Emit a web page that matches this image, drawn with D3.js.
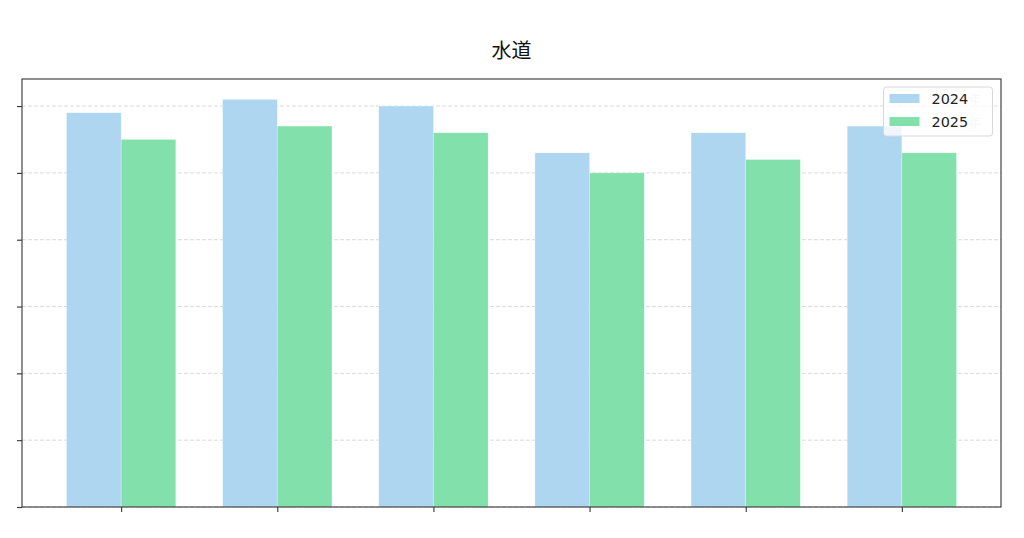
<!DOCTYPE html>
<html>
<head>
<meta charset="utf-8">
<script src="https://cdn.jsdelivr.net/npm/d3@7"></script>
<style>
  body { margin: 0; background: #fff; }
  svg { display: block; font-family: "DejaVu Sans", sans-serif; }
</style>
</head>
<body>
<div class="chart"></div>
<script>
var categories = ['1月', '2月', '3月', '4月', '5月', '6月'];
var seriesNames = ['2024', '2025'];
var values2024 = [118, 122, 120, 106, 112, 114];
var values2025 = [110, 114, 112, 100, 104, 106];
var yTicks = [0, 20, 40, 60, 80, 100, 120];

var colors = ['#aed6f1', '#82e0aa'];
var series = [values2024, values2025];

var fullWidth = 1024, fullHeight = 538;
var margin = { top: 79, right: 23, bottom: 31, left: 22 };
var width = fullWidth - margin.left - margin.right;
var height = fullHeight - margin.top - margin.bottom;

var svg = d3.select('.chart')
  .append('svg')
  .attr('width', fullWidth)
  .attr('height', fullHeight);

var g = svg.append('g')
  .attr('transform', 'translate(' + margin.left + ',' + margin.top + ')');

// matplotlib style: index positions, bar width 0.35, 5% margins
var barW = 0.35;
var lo = -barW, hi = categories.length - 1 + barW;
var pad = (hi - lo) * 0.05;
var xScale = d3.scaleLinear()
  .domain([lo - pad, hi + pad])
  .range([0, width]);

var yMax = d3.max(values2024.concat(values2025)) * 1.05;
var yScale = d3.scaleLinear()
  .domain([0, yMax])
  .range([height, 0]);

// dashed grid
g.append('g')
  .selectAll('line')
  .data(yTicks)
  .enter()
  .append('line')
  .attr('x1', 0)
  .attr('x2', width)
  .attr('y1', d => yScale(d))
  .attr('y2', d => yScale(d))
  .attr('stroke', '#b0b0b0')
  .attr('stroke-opacity', 0.6)
  .attr('stroke-width', 0.8)
  .attr('stroke-dasharray', '4,2');

// bars
series.forEach(function(vals, s) {
  g.append('g')
    .selectAll('rect')
    .data(vals)
    .enter()
    .append('rect')
    .attr('x', (d, i) => xScale(i - barW + s * barW))
    .attr('width', xScale(barW) - xScale(0))
    .attr('y', d => yScale(d))
    .attr('height', d => height - yScale(d))
    .attr('fill', colors[s])
    .attr('stroke', '#ffffff')
    .attr('stroke-opacity', 0.5)
    .attr('stroke-width', 0.5);
});

// axes without labels
var yAxis = d3.axisLeft(yScale)
  .tickValues(yTicks)
  .tickSize(5)
  .tickFormat('');
g.append('g').call(yAxis).call(styleAxis);

var xAxis = d3.axisBottom(xScale)
  .tickValues(d3.range(categories.length))
  .tickSize(5)
  .tickFormat('');
g.append('g')
  .attr('transform', `translate(0, ${height})`)
  .call(xAxis)
  .call(styleAxis);

// frame
g.append('rect')
  .attr('width', width)
  .attr('height', height)
  .attr('fill', 'none')
  .attr('stroke', '#333')
  .attr('stroke-width', 1.1);

function styleAxis(sel) {
  sel.select('.domain').remove();
  sel.selectAll('.tick line').attr('stroke', '#333').attr('stroke-width', 1.1);
}

// title
svg.append('text')
  .attr('x', margin.left + width / 2)
  .attr('y', 58)
  .attr('text-anchor', 'middle')
  .style('font-family', '"Noto Sans CJK JP", sans-serif')
  .style('font-size', '20px')
  .style('fill', '#111')
  .text('水道');

// legend
var legend = svg.append('g')
  .attr('transform', 'translate(883.5, 87)');

legend.append('rect')
  .attr('width', 109)
  .attr('height', 49)
  .attr('rx', 3)
  .attr('fill', '#fff')
  .attr('fill-opacity', 0.8)
  .attr('stroke', '#d8d8d8');

seriesNames.forEach(function(name, i) {
  var row = legend.append('g')
    .attr('transform', 'translate(6,' + (7 + i * 23) + ')');
  row.append('rect')
    .attr('width', 30)
    .attr('height', 9)
    .attr('fill', colors[i]);
  var t = row.append('text')
    .attr('x', 42)
    .attr('y', 10)
    .style('font-size', '14.4px')
    .style('fill', '#222');
  t.append('tspan').text(name);
  t.append('tspan').style('fill-opacity', 0.06).text('年');
});
</script>
</body>
</html>
